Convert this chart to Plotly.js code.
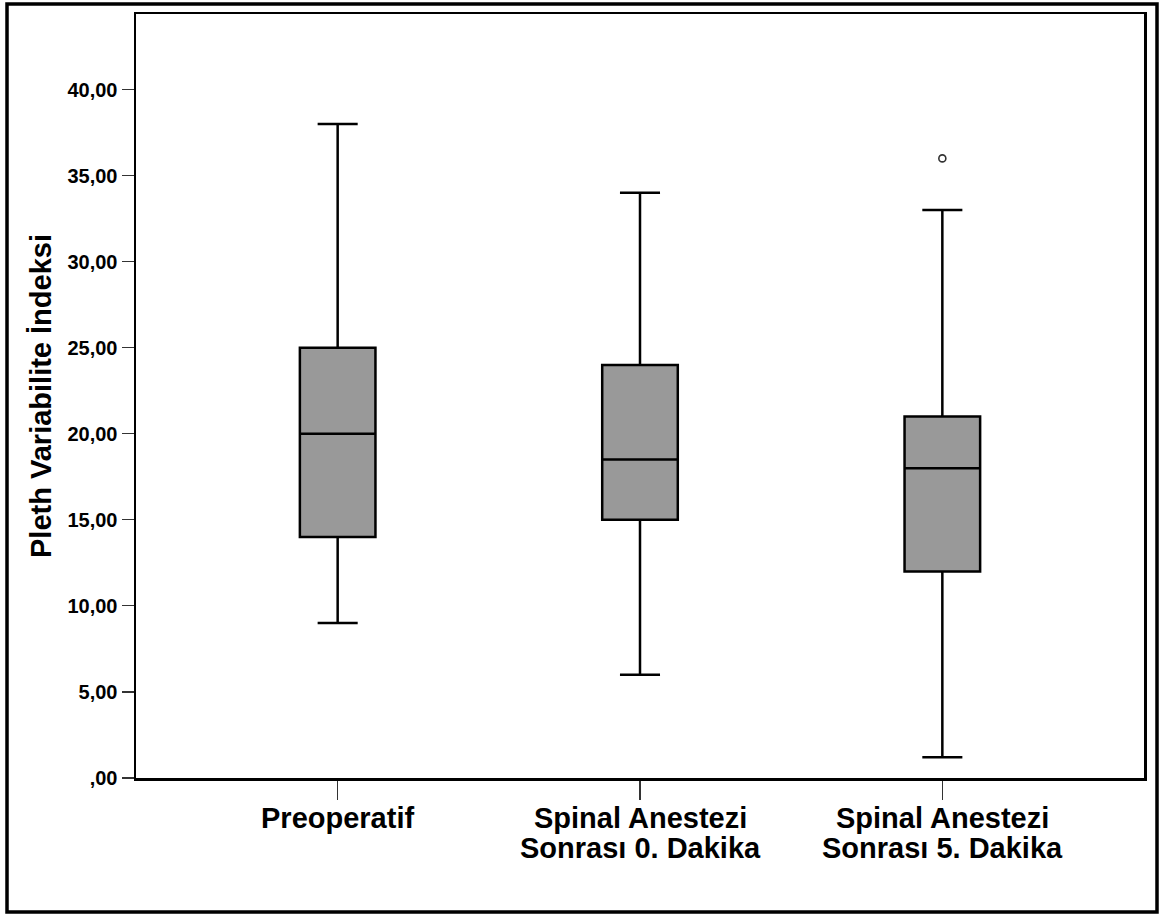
<!DOCTYPE html>
<html>
<head>
<meta charset="utf-8">
<script src="https://cdn.plot.ly/plotly-3.0.1.min.js"></script>
<style>
  html, body { margin: 0; padding: 0; background: #fff; }
  #chart { width: 1160px; height: 915px; }
</style>
</head>
<body>
<div id="chart"></div>
<script>
// ---- data ----
const categories = ["Preoperatif", "Spinal Anestezi Sonrası 0. Dakika", "Spinal Anestezi Sonrası 5. Dakika"];
const labelLines = [["Preoperatif"], ["Spinal Anestezi", "Sonrası 0. Dakika"], ["Spinal Anestezi", "Sonrası 5. Dakika"]];
const lowerWhisker = [9, 6, 1.2];
const q1Values = [14, 15, 12];
const medianValues = [20, 18.5, 18];
const q3Values = [25, 24, 21];
const upperWhisker = [38, 34, 33];
const outlierCategory = ["Spinal Anestezi Sonrası 5. Dakika"];
const outlierValues = [36];
const yTickVals = [0, 5, 10, 15, 20, 25, 30, 35, 40];
const yTickText = [",00", "5,00", "10,00", "15,00", "20,00", "25,00", "30,00", "35,00", "40,00"];
const yTitle = "Pleth Variabilite İndeksi";

// ---- layout geometry (pixels) ----
const W = 1160, H = 915;
const M = { l: 136, r: 16, t: 14, b: 137 };
const pw = W - M.l - M.r, ph = H - M.t - M.b;
const px2paperX = p => (p - M.l) / pw;
const py2paperY = p => (H - M.b - p) / ph;

const FONT = "Liberation Sans, Arial, sans-serif";

const traces = categories.map((c, i) => ({
  type: "box",
  x: [c],
  q1: [q1Values[i]],
  median: [medianValues[i]],
  q3: [q3Values[i]],
  lowerfence: [lowerWhisker[i]],
  upperfence: [upperWhisker[i]],
  width: 0.25,
  whiskerwidth: 0.53,
  fillcolor: "#999999",
  line: { color: "#000000", width: 2.5 },
  boxpoints: false,
  hoverinfo: "none",
  showlegend: false
}));

traces.push({
  type: "scatter",
  mode: "markers",
  x: outlierCategory,
  y: outlierValues,
  marker: { symbol: "circle-open", size: 7, color: "#333333", line: { width: 1.6, color: "#333333" } },
  hoverinfo: "none",
  showlegend: false
});

const annotations = [];
labelLines.forEach((lines, i) => {
  lines.forEach((t, k) => {
    annotations.push({
      text: t,
      xref: "x", yref: "paper",
      x: categories[i], y: 0,
      xanchor: "center", yanchor: "middle",
      yshift: -40 - 30 * k,
      showarrow: false,
      font: { family: FONT, size: 29, color: "#000000", weight: "bold" }
    });
  });
});

const layout = {
  width: W, height: H,
  margin: M,
  paper_bgcolor: "#ffffff",
  plot_bgcolor: "#ffffff",
  font: { family: FONT, color: "#000000" },
  showlegend: false,
  xaxis: {
    type: "category",
    categoryorder: "array",
    categoryarray: categories,
    range: [-0.667, 2.667],
    showgrid: false, zeroline: false,
    showline: true, linecolor: "#000000", linewidth: 2.5, mirror: true,
    ticks: "outside", ticklen: 19, tickwidth: 1.5, tickcolor: "#333333",
    showticklabels: false,
    fixedrange: true
  },
  yaxis: {
    range: [0, 44.39],
    showgrid: false, zeroline: false,
    showline: true, linecolor: "#000000", linewidth: 2.5, mirror: true,
    ticks: "outside", ticklen: 12, tickwidth: 1.2, tickcolor: "#333333",
    tickmode: "array", tickvals: yTickVals, ticktext: yTickText,
    tickfont: { family: FONT, size: 20, color: "#000000", weight: "bold" },
    title: { text: yTitle, font: { family: FONT, size: 29, color: "#000000", weight: "bold" }, standoff: 8 },
    fixedrange: true
  },
  annotations: annotations,
  shapes: [{
    type: "rect", xref: "paper", yref: "paper",
    x0: px2paperX(7), x1: px2paperX(1157),
    y0: py2paperY(912), y1: py2paperY(4),
    line: { color: "#000000", width: 3.5 },
    fillcolor: "rgba(0,0,0,0)",
    layer: "above"
  }]
};

Plotly.newPlot("chart", traces, layout, { staticPlot: true, displayModeBar: false });
</script>
</body>
</html>
